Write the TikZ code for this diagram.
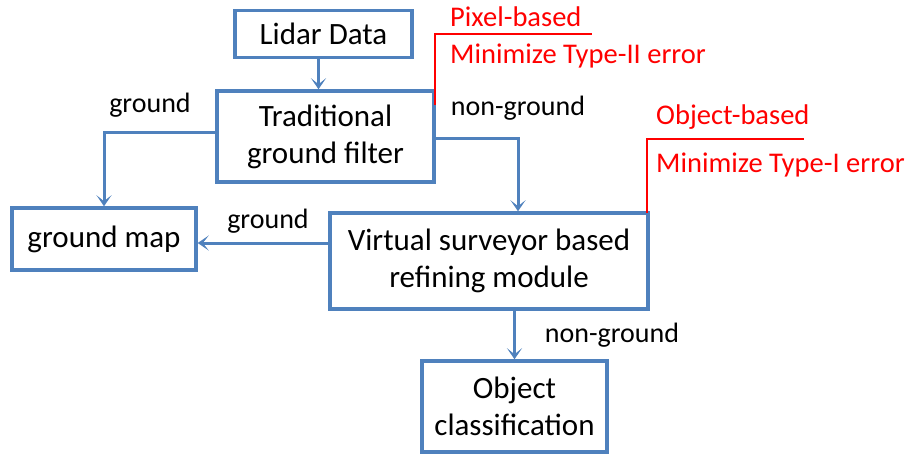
\documentclass[tikz,border=0pt]{standalone}
\usepackage{fontspec}
\setmainfont{Carlito}
\usetikzlibrary{arrows.meta}
\definecolor{bblue}{HTML}{4F81BD}
\begin{document}
\begin{tikzpicture}[x=1pt,y=-1pt,
  box/.style={draw=bblue,line width=3.5pt,align=center,inner sep=0pt,
    font=\fontsize{31}{37}\selectfont},
  flow/.style={draw=bblue,line width=3pt,-{Stealth[length=11pt,width=15pt,inset=6pt]}},
  lbl/.style={anchor=base,inner sep=0pt,font=\fontsize{28}{33}\selectfont},
  rlbl/.style={anchor=base west,inner sep=0pt,text=red,font=\fontsize{28.5}{33}\selectfont},
  rline/.style={draw=red,line width=2.2pt}]
\useasboundingbox (0,0) rectangle (908,453);
\node[box,minimum width=177pt,minimum height=47pt] (lidar) at (323.5,34) {Lidar Data};
\node[box,minimum width=217pt,minimum height=91pt] (trad) at (325.5,136.5) {Traditional\\ground filter};
\node[box,minimum width=184pt,minimum height=62pt] (gmap) at (104,239) {ground map};
\node[box,minimum width=318pt,minimum height=96pt] (virt) at (489,261) {Virtual surveyor based\\refining module};
\node[box,minimum width=185pt,minimum height=91pt] (obj) at (514.5,406.5) {Object\\classification};

\draw[flow] ([xshift=-5pt]lidar.south) -- ([xshift=-7pt]trad.north);
\draw[flow] ([yshift=4.5pt]trad.west) -| (gmap.north);
\draw[flow] ([yshift=-1.5pt]trad.east) -| ([xshift=29pt]virt.north);
\draw[flow] ([yshift=-4pt]virt.west |- gmap.east) -- ([yshift=-4pt]gmap.east);
\draw[flow] (obj.north |- virt.south) -- (obj.north);

\node[lbl] (l1) at (150,112) {ground};
\node[lbl] (l2) at (518,115) {non-ground};
\node[lbl] (l3) at (268,228) {ground};
\node[lbl] (l4) at (612,342) {non-ground};

\coordinate (p1) at (435,105);
\coordinate (p2) at (435,34);
\coordinate (p3) at (592,34);
\draw[rline] (p1) -- (p2) -- (p3);
\node[rlbl] (r1) at (450,26) {Pixel-based};
\node[rlbl] (r2) at (450,63) {Minimize Type-II error};

\coordinate (q1) at (647,213);
\coordinate (q2) at (647,139);
\coordinate (q3) at (804,139);
\draw[rline] (q1) -- (q2) -- (q3);
\node[rlbl] (r3) at (656,124) {Object-based};
\node[rlbl] (r4) at (656,172) {Minimize Type-I error};
\end{tikzpicture}
\end{document}
